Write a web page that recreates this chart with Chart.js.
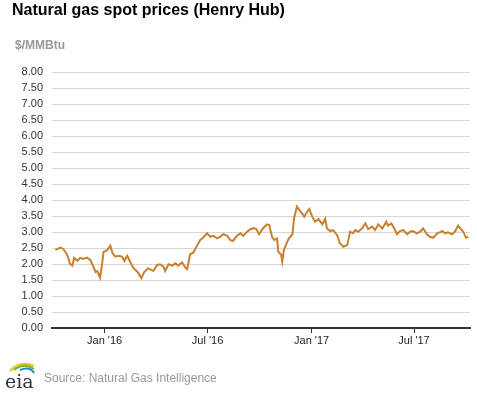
<!DOCTYPE html>
<html>
<head>
<meta charset="utf-8">
<script src="https://cdn.jsdelivr.net/npm/chart.js@4"></script>
<style>
  body { margin: 0; background: #fff; font-family: Arial, "Liberation Sans", sans-serif; }
  #wrap { position: relative; width: 477px; height: 393px; overflow: hidden; }
  #chart { position: absolute; left: 0; top: 0; }
  .title { position: absolute; left: 12px; top: 1px; font-size: 16px; font-weight: bold; color: #000; }
  .unit { position: absolute; left: 15px; top: 38px; font-size: 12px; font-weight: bold; color: #999; }
  .source { position: absolute; left: 44px; top: 371px; font-size: 12px; color: #999; }
  .logo { position: absolute; left: 3px; top: 359px; }
</style>
</head>
<body>
<div id="wrap">
  <canvas id="chart" width="477" height="393"></canvas>
  <div class="title">Natural gas spot prices (Henry Hub)</div>
  <div class="unit">$/MMBtu</div>
  <svg class="logo" width="34" height="32" viewBox="0 0 34 32">
    <path d="M7 12 Q17 1 31 7" stroke="#f2c318" stroke-width="2.4" fill="none"/>
    <path d="M11 11 Q21 3 31 10" stroke="#6db33f" stroke-width="2" fill="none"/>
    <path d="M17 11 Q27 7 31 14" stroke="#1d8ccf" stroke-width="2" fill="none"/>
    <text x="2" y="29" font-family="DejaVu Serif, serif" font-size="19" fill="#333">eia</text>
  </svg>
  <div class="source">Source: Natural Gas Intelligence</div>
</div>
<script>
// Henry Hub daily spot (roughly every few days)
const dates = [
  '2015-10-06','2015-10-15','2015-10-20','2015-10-27','2015-11-01','2015-11-05','2015-11-08','2015-11-14',
  '2015-11-19','2015-11-24','2015-12-01','2015-12-07','2015-12-12','2015-12-16','2015-12-19','2015-12-24',
  '2015-12-28','2015-12-30','2016-01-06','2016-01-11','2016-01-15','2016-01-20','2016-01-25','2016-02-01',
  '2016-02-05','2016-02-10','2016-02-15','2016-02-21','2016-02-28','2016-03-06','2016-03-11','2016-03-18',
  '2016-03-27','2016-04-03','2016-04-08','2016-04-14','2016-04-17','2016-04-23','2016-04-30','2016-05-05',
  '2016-05-10','2016-05-17','2016-05-23','2016-05-26','2016-05-31','2016-06-06','2016-06-13','2016-06-18',
  '2016-06-23','2016-06-30','2016-07-06','2016-07-11','2016-07-18','2016-07-23','2016-07-29','2016-08-05',
  '2016-08-10','2016-08-15','2016-08-22','2016-08-28','2016-09-02','2016-09-09','2016-09-14','2016-09-20',
  '2016-09-25','2016-09-30','2016-10-07','2016-10-14','2016-10-18','2016-10-23','2016-10-27','2016-11-01',
  '2016-11-03','2016-11-08','2016-11-10','2016-11-13','2016-11-19','2016-11-22','2016-11-28','2016-12-01',
  '2016-12-06','2016-12-10','2016-12-15','2016-12-19','2016-12-24','2016-12-28','2017-01-02','2017-01-07',
  '2017-01-13','2017-01-20','2017-01-25','2017-01-28','2017-02-03','2017-02-08','2017-02-15','2017-02-20',
  '2017-02-26','2017-03-05','2017-03-10','2017-03-15','2017-03-19','2017-03-24','2017-03-31','2017-04-06',
  '2017-04-11','2017-04-18','2017-04-23','2017-04-29','2017-05-06','2017-05-13','2017-05-16','2017-05-22',
  '2017-05-27','2017-06-01','2017-06-06','2017-06-12','2017-06-19','2017-06-24','2017-06-29','2017-07-06',
  '2017-07-12','2017-07-17','2017-07-24','2017-07-29','2017-08-04','2017-08-11','2017-08-16','2017-08-20',
  '2017-08-25','2017-08-30','2017-09-06','2017-09-12','2017-09-17','2017-09-22','2017-09-26','2017-10-01',
  '2017-10-05'
];
const prices = [
  2.44,2.51,2.47,2.28,2.00,1.95,2.19,2.10,
  2.19,2.16,2.20,2.12,1.92,1.75,1.78,1.57,
  2.06,2.37,2.44,2.57,2.34,2.23,2.26,2.23,
  2.10,2.26,2.07,1.87,1.76,1.56,1.75,1.87,
  1.78,1.97,1.99,1.92,1.78,1.99,1.95,2.02,
  1.95,2.05,1.88,1.84,2.30,2.36,2.59,2.75,
  2.82,2.96,2.85,2.88,2.80,2.85,2.93,2.88,
  2.75,2.72,2.88,2.96,2.88,3.01,3.08,3.12,
  3.10,2.93,3.11,3.24,3.22,2.85,2.75,2.80,
  2.38,2.30,2.07,2.44,2.70,2.80,2.93,3.43,
  3.79,3.69,3.58,3.48,3.63,3.72,3.48,3.32,
  3.41,3.24,3.41,3.11,3.03,3.06,2.91,2.65,
  2.54,2.59,3.01,2.96,3.06,3.01,3.11,3.27,
  3.09,3.17,3.06,3.24,3.11,3.32,3.20,3.27,
  3.11,2.93,3.03,3.06,2.93,3.01,3.03,2.96,
  3.01,3.11,2.93,2.85,2.82,2.96,2.99,3.03,
  2.96,2.99,2.93,3.03,3.20,3.09,3.01,2.82,
  2.85
];
const tickDates = ['2016-01-01', '2016-07-01', '2017-01-01', '2017-07-01'];
const tickLabels = ["Jan '16", "Jul '16", "Jan '17", "Jul '17"];
const xStart = '2015-09-30';
const xEnd = '2017-10-08';

const day = s => Date.parse(s + 'T00:00:00Z') / 86400000;

const points = dates.map((d, i) => ({ x: day(d), y: prices[i] }));
const tickDays = tickDates.map(day);

const font = { family: 'Arial, "Liberation Sans", sans-serif', size: 11 };

new Chart(document.getElementById('chart'), {
  type: 'line',
  data: {
    datasets: [{
      data: points,
      borderColor: '#c8802e',
      borderWidth: 2,
      pointRadius: 0,
      tension: 0,
      fill: false
    }]
  },
  options: {
    responsive: false,
    animation: false,
    layout: { padding: { top: 72, right: 7, left: 0, bottom: 0 } },
    plugins: { legend: { display: false }, tooltip: { enabled: false } },
    scales: {
      x: {
        type: 'linear',
        min: day(xStart),
        max: day(xEnd),
        afterFit: s => { s.height = 65; },
        afterBuildTicks: s => { s.ticks = tickDays.map(v => ({ value: v })); },
        ticks: {
          autoSkip: false,
          maxRotation: 0,
          padding: 1,
          color: '#222',
          font: font,
          callback: (v) => tickLabels[tickDays.indexOf(v)]
        },
        grid: { drawOnChartArea: false, drawTicks: true, tickLength: 5, color: '#333' },
        border: { display: true, color: '#333', width: 2 }
      },
      y: {
        min: 0,
        max: 8,
        afterFit: s => { s.width = 52; },
        ticks: {
          stepSize: 0.5,
          autoSkip: false,
          padding: 9,
          color: '#333',
          font: font,
          callback: v => v.toFixed(2)
        },
        grid: { color: '#d6d6d6', lineWidth: 1, drawTicks: false },
        border: { display: false }
      }
    }
  }
});
</script>
</body>
</html>
